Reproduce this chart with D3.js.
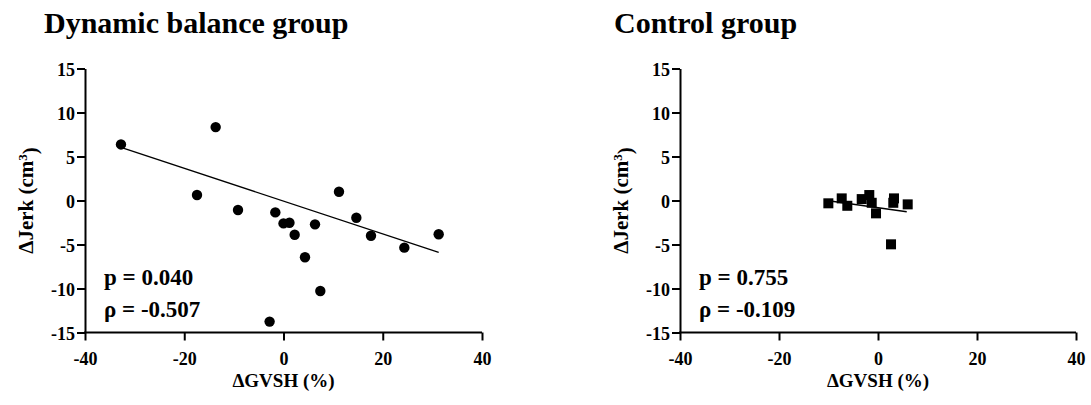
<!DOCTYPE html>
<html>
<head>
<meta charset="utf-8">
<script src="https://cdn.jsdelivr.net/npm/d3@7"></script>
<style>
  body { margin: 0; background: #fff; }
  svg text { font-family: "Liberation Serif", "DejaVu Serif", "Times New Roman", serif; font-weight: bold; fill: #000; }
</style>
</head>
<body>
<div id="chart"></div>
<script>
// Dynamic balance group: change in GVSH (%) vs change in jerk
const dynGvsh = [-32.75, -13.67, -17.43, -9.17, -1.65, 0.0, 1.2, 2.25, 4.33, 6.35, 7.42, -2.8, 11.18, 14.68, 17.63, 24.35, 31.27];
const dynJerk = [6.37, 8.34, 0.62, -1.08, -1.35, -2.6, -2.53, -3.89, -6.45, -2.71, -10.28, -13.76, 1.0, -1.96, -4.0, -5.36, -3.84];
const dynFitX = [-32.75, 31.27];
const dynFitY = [6.03, -5.89];

// Control group
const ctrlGvsh = [-10.03, -7.33, -6.2, -3.29, -1.76, -1.27, -0.4, 3.23, 3.09, 6.0, 2.63];
const ctrlJerk = [-0.32, 0.24, -0.6, 0.16, 0.62, -0.26, -1.46, 0.24, -0.26, -0.44, -4.98];
const ctrlFitX = [-10.0, 5.8];
const ctrlFitY = [-0.03, -1.28];

const xTicks = [-40, -20, 0, 20, 40];
const yTicks = [-15, -10, -5, 0, 5, 10, 15];

const FONT = '"Liberation Serif", "DejaVu Serif", "Times New Roman", serif';

const W = 1091, H = 405;
const svg = d3.select("#chart").append("svg")
    .attr("width", W)
    .attr("height", H)
    .style("font-family", FONT);

function panel(opts) {
    const left = opts.left, right = opts.right, top = 68.5, bottom = 332.5;

    const x = d3.scaleLinear().domain([-40, 40]).range([left, right]);
    const y = d3.scaleLinear().domain([-15, 15]).range([bottom, top]);

    // title
    svg.append("text")
        .attr("x", opts.titleX)
        .attr("y", 33)
        .style("font-size", "30px")
        .text(opts.title);

    // axes (plain hyphen minus like the original)
    const gx = svg.append("g")
        .attr("transform", `translate(0,${bottom})`)
        .call(d3.axisBottom(x).tickValues(xTicks).tickFormat(d => String(d))
            .tickSize(8).tickSizeOuter(0).tickPadding(12));
    const gy = svg.append("g")
        .attr("transform", `translate(${left},0)`)
        .call(d3.axisLeft(y).tickValues(yTicks).tickFormat(d => String(d))
            .tickSize(8).tickSizeOuter(0).tickPadding(2));

    [gx, gy].forEach(g => {
        g.attr("font-family", FONT);
        g.select(".domain").attr("stroke", "#000").attr("stroke-width", 2);
        g.selectAll(".tick line").attr("stroke", "#000").attr("stroke-width", 2);
        g.selectAll(".tick text")
            .attr("fill", "#000")
            .style("font-family", FONT)
            .style("font-weight", "bold")
            .style("font-size", "18px");
    });
    // the corner: extend x domain to meet the y axis line
    gx.select(".domain").attr("d", `M${left - 1},0H${right}`);
    gy.selectAll(".tick text").attr("dy", "0.38em");

    // axis titles
    svg.append("text")
        .attr("x", (left + right) / 2)
        .attr("y", 387)
        .attr("text-anchor", "middle")
        .style("font-size", "19px")
        .text("ΔGVSH (%)");

    const yl = svg.append("text")
        .attr("transform", `translate(${left - 52},${(top + bottom) / 2}) rotate(-90)`)
        .attr("text-anchor", "middle")
        .style("font-size", "21px");
    yl.append("tspan").text("ΔJerk (cm");
    yl.append("tspan").attr("dy", "-0.45em").style("font-size", "13px").text("3");
    yl.append("tspan").attr("dy", "0.45em").text(")");

    // fit line
    svg.append("line")
        .attr("x1", x(opts.fitX[0])).attr("y1", y(opts.fitY[0]))
        .attr("x2", x(opts.fitX[1])).attr("y2", y(opts.fitY[1]))
        .attr("stroke", "#000")
        .attr("stroke-width", 1.3);

    // points
    const pts = d3.zip(opts.xs, opts.ys);
    if (opts.shape === "circle") {
        svg.append("g").selectAll("circle")
            .data(pts)
            .enter()
            .append("circle")
            .attr("cx", d => x(d[0]))
            .attr("cy", d => y(d[1]))
            .attr("r", 5.2)
            .attr("fill", "#000");
    } else {
        svg.append("g").selectAll("rect")
            .data(pts)
            .enter()
            .append("rect")
            .attr("x", d => x(d[0]) - 5)
            .attr("y", d => y(d[1]) - 5)
            .attr("width", 10)
            .attr("height", 10)
            .attr("fill", "#000");
    }

    // stats
    svg.append("text")
        .attr("x", left + 19)
        .attr("y", 284.5)
        .style("font-size", "23px")
        .text(opts.p);
    svg.append("text")
        .attr("x", left + 19)
        .attr("y", 316.5)
        .style("font-size", "23px")
        .text(opts.rho);
}

panel({
    left: 85, right: 482, titleX: 44, title: "Dynamic balance group",
    xs: dynGvsh, ys: dynJerk, fitX: dynFitX, fitY: dynFitY, shape: "circle",
    p: "p = 0.040", rho: "ρ = -0.507"
});
panel({
    left: 680, right: 1076, titleX: 614, title: "Control group",
    xs: ctrlGvsh, ys: ctrlJerk, fitX: ctrlFitX, fitY: ctrlFitY, shape: "square",
    p: "p = 0.755", rho: "ρ = -0.109"
});
</script>
</body>
</html>
